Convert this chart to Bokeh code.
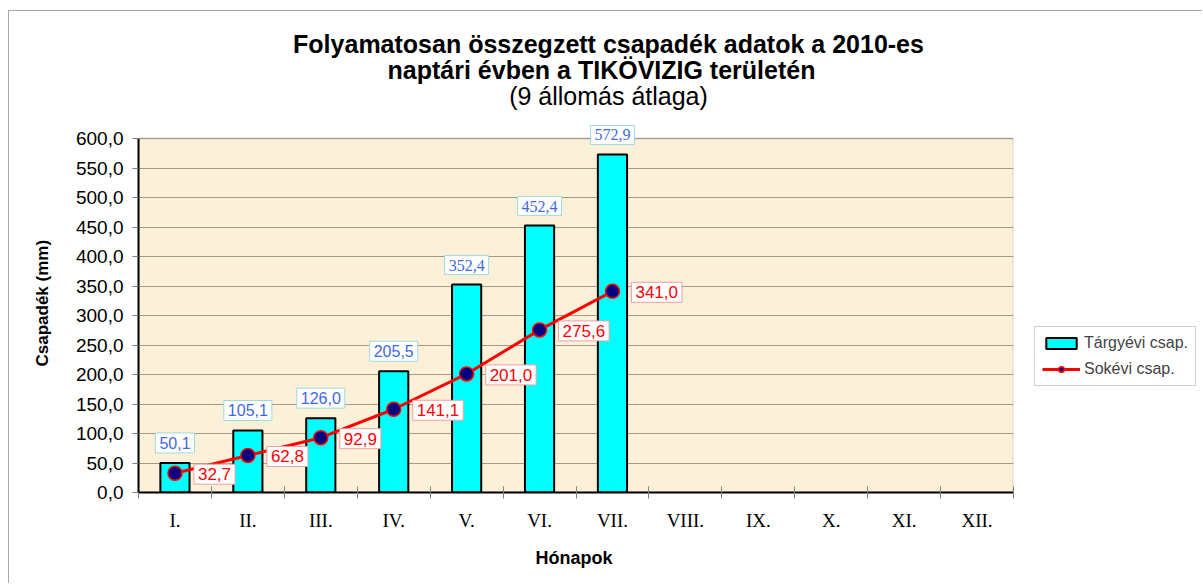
from bokeh.plotting import figure
from bokeh.models import (Range1d, FixedTicker, CustomJSTickFormatter, LinearAxis, Label, Title,
                          Legend, LegendItem, BoxAnnotation, ColumnDataSource, CDSView, IndexFilter)
from bokeh.core.properties import value
from bokeh.embed import file_html
from bokeh.resources import INLINE

months = ["I.", "II.", "III.", "IV.", "V.", "VI.", "VII.", "VIII.", "IX.", "X.", "XI.", "XII."]
bar_months = ["I.", "II.", "III.", "IV.", "V.", "VI.", "VII."]
targyevi = [50.1, 105.1, 126.0, 205.5, 352.4, 452.4, 572.9]
sokevi = [32.7, 62.8, 92.9, 141.1, 201.0, 275.6, 341.0]
y_ticks = [0, 50, 100, 150, 200, 250, 300, 350, 400, 450, 500, 550, 600]
title_lines = ["Folyamatosan összegzett csapadék adatok a 2010-es",
               "naptári évben a TIKÖVIZIG területén",
               "(9 állomás átlaga)"]
x_title = "Hónapok"
y_title = "Csapadék (mm)"

SANS = "Liberation Sans"
SERIF = "Liberation Serif"

def fmt(v):
    return f"{v:.1f}".replace(".", ",")

xs = [months.index(m) + 0.5 for m in bar_months]
src = ColumnDataSource(dict(x=xs, bar=targyevi, line=sokevi,
                            bar_lbl=[fmt(v) for v in targyevi],
                            line_lbl=[fmt(v) for v in sokevi]))

# layout: plot area (0..12, 0..600) occupies 875 x 354 px; frame extends to the right/top
W, H = 1194, 573
MBL, MBT, MBB = 129, 2, 92
frame_w = W - MBL
frame_h = H - MBT - MBB
x_end = 12 * frame_w / 875
y_end = 600 * frame_h / 354

p = figure(width=W, height=H, output_backend="svg", toolbar_location=None,
           x_range=Range1d(0, x_end), y_range=Range1d(0, y_end),
           min_border_left=MBL, min_border_right=0, min_border_top=MBT, min_border_bottom=MBB,
           background_fill_color="white", border_fill_color="white", outline_line_color=None,
           styles={"margin-left": "8px", "margin-top": "10px",
                   "border-left": "1px solid #A6A6A6", "border-top": "1px solid #A6A6A6"})
p.xaxis.visible = False
p.yaxis.visible = False
p.xgrid.visible = False

bg = BoxAnnotation(left=0, right=12, bottom=0, top=600, fill_color="#FCF0D9", fill_alpha=1.0,
                   line_color="#8C8C8C", line_width=2, level="image")
p.add_layout(bg)
cover = BoxAnnotation(left=12, fill_color="white", fill_alpha=1.0, line_color=None, level="glyph")
p.add_layout(cover)

p.ygrid.ticker = FixedTicker(ticks=y_ticks)
p.ygrid.grid_line_color = "#A39A8A"
p.ygrid.grid_line_width = 1

yax = LinearAxis(ticker=FixedTicker(ticks=y_ticks), bounds=(0, 600),
                 formatter=CustomJSTickFormatter(code="return tick.toFixed(1).replace('.', ',');"))
yax.axis_line_color = "black"
yax.axis_line_width = 2
yax.major_tick_in = 0
yax.major_tick_out = 6
yax.major_tick_line_color = "#808080"
yax.minor_tick_line_color = None
yax.major_label_text_font = SANS
yax.major_label_text_font_size = "19px"
yax.major_label_text_color = "black"
yax.major_label_standoff = 9
p.add_layout(yax, "left")

xax = LinearAxis(ticker=FixedTicker(ticks=[i + 0.5 for i in range(12)], minor_ticks=list(range(13))),
                 bounds=(0, 12))
xax.major_label_overrides = {i + 0.5: m for i, m in enumerate(months)}
xax.axis_line_color = "black"
xax.axis_line_width = 2
xax.major_tick_line_color = None
xax.minor_tick_line_color = "#808080"
xax.minor_tick_in = 6
xax.minor_tick_out = 6
xax.major_label_text_font = SERIF
xax.major_label_text_font_size = "19px"
xax.major_label_text_color = "black"
xax.major_label_standoff = 11
p.add_layout(xax, "below")

# axis titles as side-panel titles so they centre on the 0..12 / 0..600 area
p.add_layout(Title(text=x_title, align="left", offset=397, standoff=24, text_font=SANS,
                   text_font_style="bold", text_font_size="18px", text_color="black"), "below")
p.add_layout(Title(text=y_title, align="left", offset=126, standoff=42, text_font=SANS,
                   text_font_style="bold", text_font_size="17px", text_color="black"), "left")

bars = p.vbar(x="x", top="bar", width=0.4, source=src, fill_color="#00FFFF",
              line_color="black", line_width=2)
ln = p.line(x="x", y="line", source=src, line_color="#FF0000", line_width=3)
pts = p.scatter(x="x", y="line", source=src, size=14, fill_color="#000080",
                line_color="#FF0000", line_width=1.5)

# bar value labels (first four drawn in a sans face, the rest in a serif face, as in the source)
n = len(targyevi)
for idx, font in [(list(range(0, 4)), SANS), (list(range(4, n)), SERIF)]:
    p.text(x="x", y="bar", text="bar_lbl", source=src, view=CDSView(filter=IndexFilter(idx)),
           text_align="center", text_baseline="bottom", y_offset=-10, text_font=value(font),
           text_font_size="16px", text_color="#4169E1",
           background_fill_color="white", border_line_color="#99DCDC", padding=4)
p.text(x="x", y="line", text="line_lbl", source=src, text_align="left", text_baseline="middle",
       x_offset=19, y_offset=1, text_font=value(SANS), text_font_size="17px", text_color="#FF0000",
       background_fill_color="white", border_line_color="#F0A0A0", padding=4)

# titles (screen units relative to the frame's bottom-left corner)
for txt, sx, sy, style in [(title_lines[0], 470, 449, "bold"),
                           (title_lines[1], 463, 423, "bold"),
                           (title_lines[2], 470, 397, "normal")]:
    p.add_layout(Label(x=sx, y=sy, x_units="screen", y_units="screen", text=txt,
                       text_align="center", text_baseline="alphabetic", text_font=SANS,
                       text_font_style=style, text_font_size="25px", text_color="black"))

legend = Legend(items=[LegendItem(label="Tárgyévi csap.", renderers=[bars]),
                       LegendItem(label="Sokévi csap.", renderers=[ln, pts])],
                location=(896, 106), glyph_width=38, glyph_height=14,
                label_text_font=SANS, label_text_font_size="16px", label_standoff=4,
                spacing=8, padding=7, margin=0, border_line_color="#A0A0A0",
                background_fill_alpha=1)
p.add_layout(legend)

open("out.html", "w").write(file_html(p, INLINE))
